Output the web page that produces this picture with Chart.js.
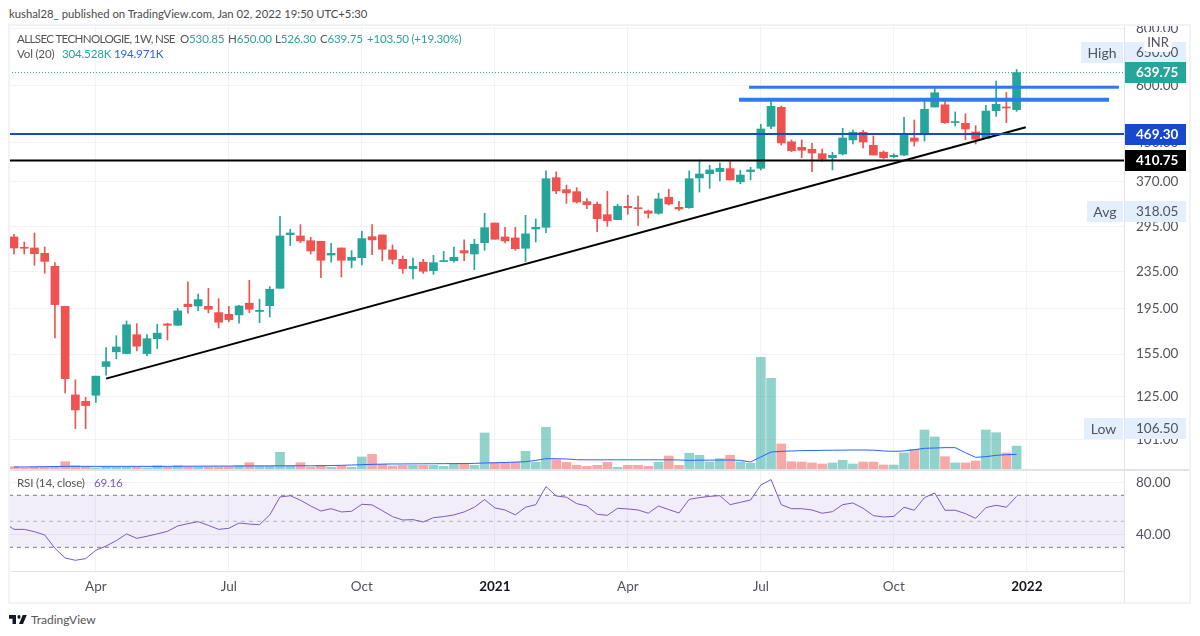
<!DOCTYPE html>
<html>
<head>
<meta charset="utf-8">
<title>ALLSEC TECHNOLOGIE</title>
<script src="https://cdn.jsdelivr.net/npm/chart.js@4/dist/chart.umd.js"></script>
<style>
  html, body { margin: 0; padding: 0; background: #fff; }
  body { position: relative; width: 1200px; height: 636px; overflow: hidden; font-family: Lato, sans-serif; }
  canvas { position: absolute; left: 9px; }
  #mainChart { top: 25px; }
  #rsiChart { top: 470px; }
  .abs { position: absolute; white-space: nowrap; }
  .frame { position: absolute; left: 8px; top: 24px; width: 1183px; height: 580px; box-sizing: border-box; border: 2px solid #f0f3fa; }
  .line { position: absolute; background: #e0e3eb; }
  .txt { font-size: 11.6px; line-height: 16px; color: #555; letter-spacing: -0.2px; }
  .teal { color: #26a69a; }
  .pill { position: absolute; height: 21px; line-height: 21px; font-size: 13.5px; box-sizing: border-box; white-space: nowrap; }
  .tag { background: #e3effd; color: #50535e; text-align: center; font-size: 14px; }
  .val { left: 1125px; width: 61px; padding-left: 11px; }
  .light { background: #e3effd; color: #50535e; }
  .dark { color: #fff; font-weight: 700; }
</style>
</head>
<body>
<div class="abs" style="left:9px;top:5px;font-size:11.3px;line-height:18px;color:#4a4a4a">kushal28_ published on TradingView.com, Jan 02, 2022 19:50 UTC+5:30</div>

<canvas id="mainChart" width="1181" height="444"></canvas>
<canvas id="rsiChart" width="1181" height="133"></canvas>

<div class="line" style="left:9px;top:469px;width:1181px;height:1.5px"></div>
<div class="line" style="left:1124px;top:571px;width:1px;height:32px"></div>
<div class="frame"></div>

<div class="abs txt" style="left:17px;top:31px;letter-spacing:-0.65px">ALLSEC TECHNOLOGIE, 1W, NSE</div>
<div class="abs txt" style="left:180px;top:31px">O<span class="teal">530.85</span></div>
<div class="abs txt" style="left:228px;top:31px">H<span class="teal">650.00</span></div>
<div class="abs txt" style="left:275px;top:31px">L<span class="teal">526.30</span></div>
<div class="abs txt" style="left:320px;top:31px">C<span class="teal">639.75</span></div>
<div class="abs txt teal" style="left:367px;top:31px">+103.50 (+19.30%)</div>
<div class="abs txt" style="left:17px;top:46px">Vol (20)</div>
<div class="abs txt teal" style="left:62px;top:46px">304.528K</div>
<div class="abs txt" style="left:114px;top:46px;color:#2962ff">194.971K</div>
<div class="abs txt" style="left:17px;top:475px">RSI (14, close)</div>
<div class="abs txt" style="left:94px;top:475px;color:#7e57c2">69.16</div>

<div class="pill tag" style="left:1081px;top:42px;width:42px">High</div>
<div class="pill val light" style="top:42px">650.00</div>
<div class="pill val dark" style="top:62px;background:#26a69a">639.75</div>
<div class="pill val dark" style="top:124px;background:#1848cc">469.30</div>
<div class="pill val dark" style="top:150px;background:#000">410.75</div>
<div class="pill tag" style="left:1087px;top:201px;width:36px">Avg</div>
<div class="pill val light" style="top:201px">318.05</div>
<div class="pill tag" style="left:1084px;top:418px;width:39px">Low</div>
<div class="pill val light" style="top:418px">106.50</div>
<div class="abs" style="left:1144px;top:32px;width:28px;height:20px;line-height:20px;background:#fff;border-radius:4px;text-align:center;font-size:13px;color:#50535e">INR</div>

<svg class="abs" style="left:9px;top:615px" width="18" height="9" viewBox="0 6 36 14" preserveAspectRatio="none">
  <path d="M14 6H0v6h7v8h7V6ZM28 20h-8l7.5-14h8L28 20Z" fill="#131722"></path>
  <circle cx="20" cy="9" r="3" fill="#131722"></circle>
</svg>
<div class="abs" style="left:31px;top:611px;font-size:12px;line-height:18px;color:#555">TradingView</div>

<script>
// weekly candles
const opens = [279.6,265.4,264.5,257.5,241.2,197.2,126.2,122.2,126,145.6,156.8,155.4,170.9,155.4,167.5,180.4,179.2,199.3,197.5,197.2,191,189.4,188.8,200.3,192.1,197.8,215.9,282.8,281,274.4,273.6,255.2,264.5,248.6,251.9,280,282.4,261.8,249.8,238.4,246.2,235.9,247,248,261,256.6,271.7,299.9,279.6,278.2,264.1,291,293.5,376.8,354.8,351.2,334,329.6,312.8,305,326.3,323.5,318.6,315,341.5,324.6,324,376.3,384.5,388.6,394.4,369,388.6,395.1,488,537.1,451.6,439.2,434.8,425.2,416.7,424.6,455.7,473.5,443.6,428.4,418.8,422.4,460.3,469.5,537.9,544,497.3,495.5,474.4,459.5,528,537.9,530.85];
const highs = [283.4,272.6,285.2,265.8,245.6,197.2,136.2,124.7,138.7,160.2,170,183.2,180.7,170.9,180.2,181,195.2,223,209.8,215.9,204.9,197.2,198.2,224.8,204.3,217.7,310.2,290.6,297.4,279.2,273.6,270.9,264.5,261,287.7,297.4,282.4,268.5,254,251.5,249.8,254.9,260.1,265.8,275.5,276.4,315,299.9,293.5,293.5,311.8,306.1,389.9,388,363.2,358.4,339,333.4,351.9,329.6,344.9,343.7,320.2,348.4,355.5,334.6,389.9,411.9,401.1,405.7,410.5,391.1,397.1,493,552.6,540.6,455.7,455.7,448,435.5,428.4,483.2,479.1,478.4,464.9,431.3,425.2,510.7,503.8,555,591,552.6,524.9,520,489.5,542.5,613,579,650];
const lows = [256.6,256.6,242.4,232.8,168.1,127.5,106.5,106.5,121.5,139.4,151.5,155.4,157.5,153.8,159.4,166.4,178.8,190.4,192.9,190.7,176.8,182.5,181.1,191,181.6,186.9,215.9,267.6,271.7,256.6,227.8,246.1,228.5,239.2,242.8,255.7,248,244,232.8,226.3,232.8,231.7,247,246.1,248,237,261.4,276.4,271.3,261.4,247,272.6,285.7,347.7,331.3,331.6,322.4,287.2,295,305,313.4,295.9,307.6,313.4,328.4,319.7,323,350.6,357.3,370.9,372.6,365.6,372.6,391.8,482.3,444.3,429.7,416.7,388.6,409.3,391.8,422.4,446.5,437.7,422.4,414.7,416.7,421,442,453.2,537.9,495.5,488.7,456.4,446.5,459.5,513.3,497,526.3];
const closes = [264.5,264.1,257,247.3,198.9,137,117,119.6,138.7,149.2,160.7,179.7,161.3,167.5,172.2,179.2,192.7,196.8,203.9,194.3,182,184.4,197.5,194.3,193.3,214.8,281,285.2,274.1,260.6,248.6,257.5,248.6,252.4,277.3,275.5,262.8,249.8,238.4,241.2,235.2,245.6,248,252.4,257.9,269.5,292.9,276.4,274.1,263.6,284,293.5,374.9,352.6,349,333.4,329,306.5,303.4,326.3,324,322.4,315,338.6,330.1,321.9,374.9,383.9,391.8,395.1,372.6,381.9,391.8,481.6,539.8,448.9,431.9,432.6,426.7,414,421.8,460.3,473.5,451,422.4,416.7,421.8,467.8,452.6,531.7,578,497,499.3,481.6,457.2,527,545.3,535.3,639.75];

// volume in thousands and its 20 week average
const volumes = [31,13,27,27,27,97,44,31,13,27,27,27,27,13,44,27,44,31,31,31,31,31,44,84,40,40,222,40,84,23,49,23,40,23,160,195,62,40,49,49,49,49,36,67,67,49,479,80,80,89,235,89,555,124,89,49,36,49,89,23,49,49,36,89,173,49,209,182,93,137,182,93,76,1486,1206,333,97,93,80,67,80,116,67,93,93,53,53,213,262,519,426,164,80,80,106,519,483,213,304.528];
const volumeAvg = [27,27,29,31,33,35,35,35,35,35,35,35,35,35,35,35,36,37,38,38,39,39,40,40,41,41,42,42,43,43,44,46,49,53,57,62,65,67,67,68,69,70,71,72,73,75,80,83,87,92,97,115,137,137,133,124,122,122,122,122,122,122,122,122,122,120,115,117,118,119,120,115,93,160,226,235,240,244,246,248,250,251,253,253,250,240,235,240,257,275,279,284,284,217,155,164,182,190,194.971];

// rsi, first value belongs to the week before the first candle
const rsiValues = [49,43.8,43.8,42,39.5,29.2,21.8,20,21.3,27.7,31,35.1,40.3,36.9,38.5,40.3,42.3,46.4,48.2,49.7,46.9,43.8,44.6,48.7,47.9,47.4,54.9,68.7,69.7,66.2,61.8,57.9,59.7,57.2,57.7,63.1,62.6,58.2,53.6,51,51.3,49.5,52.8,53.6,54.9,57.2,60.8,66.7,60.3,58.7,54.9,60.8,62.8,76.7,69.5,68.5,63.6,61.8,55.4,54.6,60,59.5,58.7,56.2,61.8,59,56.4,66.9,68.2,69.2,69.7,62.8,64.6,66.4,77.9,82.1,62.8,59.7,59.7,58.7,56.2,57.4,62.8,64.1,60,54.4,53.3,53.8,60.8,58.5,68.2,71.8,58.5,58.5,55.9,52.3,60.5,62.3,60.8,69.16];

const timeTicks = [8, 21, 34, 47, 60, 73, 86, 99];
const timeLabels = ["Apr", "Jul", "Oct", "2021", "Apr", "Jul", "Oct", "2022"];
const priceTicks = [800, 600, 450, 370, 295, 235, 195, 155, 125, 101];
const rsiTicks = [80, 40];

// hand drawn lines as [week, price] pairs
const trendLine = [[9, 137], [98.9, 485.8]];
const upperResistance = [[71.85, 594], [108, 594]];
const lowerResistance = [[70.87, 558], [107.04, 558]];
const blueLevel = 469.3;
const blackLevel = 410.75;
const lastClose = 639.75;

const xMin = -0.489;
const xMax = 108.5;
const GREEN = "#26a69a";
const RED = "#ef5350";
const FONT = "Lato, sans-serif";
const TICK_SIZE = 13.5;

const candleColors = closes.map((c, i) => (c >= opens[i] ? GREEN : RED));
const volumeColors = closes.map((c, i) =>
  c >= opens[i] ? "rgba(38,166,154,0.5)" : "rgba(239,83,80,0.5)"
);

function toPoints(pairs) {
  return pairs.map((p) => ({ x: p[0], y: p[1] }));
}

function levelLine(price, color, width, order, dash) {
  return {
    type: "line",
    data: toPoints([[xMin, price], [xMax, price]]),
    borderColor: color,
    borderWidth: width,
    borderDash: dash || [],
    pointRadius: 0,
    yAxisID: "y",
    order: order,
  };
}

function drawnLine(pairs, color, width, order) {
  return {
    type: "line",
    data: toPoints(pairs),
    borderColor: color,
    borderWidth: width,
    pointRadius: 0,
    yAxisID: "y",
    order: order,
  };
}

function setTicks(values) {
  return (scale) => {
    scale.ticks = values.map((v) => ({ value: v }));
  };
}

function fixRightAxis(scale) {
  scale.width = 66;
  scale.paddingTop = 0;
  scale.paddingBottom = 0;
}

const mainChart = new Chart(document.getElementById("mainChart"), {
  type: "bar",
  data: {
    datasets: [
      {
        data: volumes.map((v, i) => ({ x: i, y: v })),
        backgroundColor: volumeColors,
        barThickness: 9,
        grouped: false,
        yAxisID: "yVol",
        order: 9,
      },
      {
        type: "line",
        data: volumeAvg.map((v, i) => ({ x: i, y: v })),
        borderColor: "#2962ff",
        borderWidth: 1,
        pointRadius: 0,
        yAxisID: "yVol",
        order: 8,
      },
      {
        data: highs.map((h, i) => ({ x: i, y: [lows[i], h] })),
        backgroundColor: candleColors,
        barThickness: 1,
        grouped: false,
        yAxisID: "y",
        order: 7,
      },
      {
        data: opens.map((o, i) => ({ x: i, y: [o, closes[i]] })),
        backgroundColor: candleColors,
        barThickness: 8,
        minBarLength: 1,
        grouped: false,
        yAxisID: "y",
        order: 6,
      },
      levelLine(lastClose, GREEN, 1, 5, [1, 2]),
      drawnLine(trendLine, "#000000", 2, 4),
      levelLine(blueLevel, "#1848cc", 2, 3),
      levelLine(blackLevel, "#000000", 2, 3),
      drawnLine(upperResistance, "#2e7bf0", 3, 2),
      drawnLine(lowerResistance, "#2e7bf0", 4, 2),
    ],
  },
  options: {
    responsive: false,
    animation: false,
    events: [],
    layout: { padding: 0 },
    plugins: { legend: { display: false }, tooltip: { enabled: false } },
    scales: {
      x: {
        type: "linear",
        min: xMin,
        max: xMax,
        offset: false,
        afterBuildTicks: setTicks(timeTicks),
        afterFit: (scale) => {
          scale.height = 0;
          scale.paddingLeft = 0;
          scale.paddingRight = 0;
        },
        grid: { color: "#f0f3fa", drawTicks: false, offset: false },
        border: { display: false },
        ticks: { display: false, autoSkip: false },
      },
      y: {
        type: "logarithmic",
        position: "right",
        min: 86.9,
        max: 813,
        bounds: "data",
        afterBuildTicks: setTicks(priceTicks),
        afterFit: fixRightAxis,
        grid: { color: "#f0f3fa", drawTicks: false },
        border: { color: "#e0e3eb" },
        ticks: {
          autoSkip: false,
          padding: 12,
          color: "#50535e",
          font: { family: FONT, size: TICK_SIZE },
          callback: (v) => Number(v).toFixed(2),
        },
      },
      yVol: {
        display: false,
        position: "left",
        min: 0,
        max: 5905,
      },
    },
  },
});

const rsiChart = new Chart(document.getElementById("rsiChart"), {
  type: "line",
  data: {
    datasets: [
      {
        data: rsiValues.map((v, i) => ({ x: i - 1, y: v })),
        borderColor: "#7e57c2",
        borderWidth: 1,
        pointRadius: 0,
        order: 1,
      },
      {
        data: toPoints([[xMin, 70], [xMax, 70]]),
        borderColor: "#787b86",
        borderWidth: 1,
        borderDash: [4, 4],
        backgroundColor: "rgba(126,87,194,0.1)",
        fill: "+1",
        pointRadius: 0,
        order: 3,
      },
      {
        data: toPoints([[xMin, 30], [xMax, 30]]),
        borderColor: "#787b86",
        borderWidth: 1,
        borderDash: [4, 4],
        pointRadius: 0,
        order: 3,
      },
      {
        data: toPoints([[xMin, 50], [xMax, 50]]),
        borderColor: "rgba(120,123,134,0.5)",
        borderWidth: 1,
        borderDash: [4, 4],
        pointRadius: 0,
        order: 2,
      },
    ],
  },
  options: {
    responsive: false,
    animation: false,
    events: [],
    layout: { padding: 0 },
    plugins: { legend: { display: false }, tooltip: { enabled: false } },
    scales: {
      x: {
        type: "linear",
        min: xMin,
        max: xMax,
        afterBuildTicks: setTicks(timeTicks),
        afterFit: (scale) => {
          scale.height = 32;
          scale.paddingLeft = 0;
          scale.paddingRight = 0;
        },
        grid: { color: "#f0f3fa", drawTicks: false },
        border: { color: "#e0e3eb" },
        ticks: {
          autoSkip: false,
          maxRotation: 0,
          padding: 8,
          font: (ctx) => ({
            family: FONT,
            size: TICK_SIZE,
            weight: ctx.tick && (ctx.tick.value === 47 || ctx.tick.value === 99) ? "bold" : "normal",
          }),
          color: (ctx) => (ctx.tick && (ctx.tick.value === 47 || ctx.tick.value === 99) ? "#131722" : "#50535e"),
          callback: (v) => timeLabels[timeTicks.indexOf(v)],
        },
      },
      y: {
        position: "right",
        min: 11.77,
        max: 89.46,
        afterBuildTicks: setTicks(rsiTicks),
        afterFit: fixRightAxis,
        grid: { color: "#f0f3fa", drawTicks: false },
        border: { color: "#e0e3eb" },
        ticks: {
          autoSkip: false,
          padding: 12,
          color: "#50535e",
          font: { family: FONT, size: TICK_SIZE },
          callback: (v) => Number(v).toFixed(2),
        },
      },
    },
  },
});
</script>
</body>
</html>
